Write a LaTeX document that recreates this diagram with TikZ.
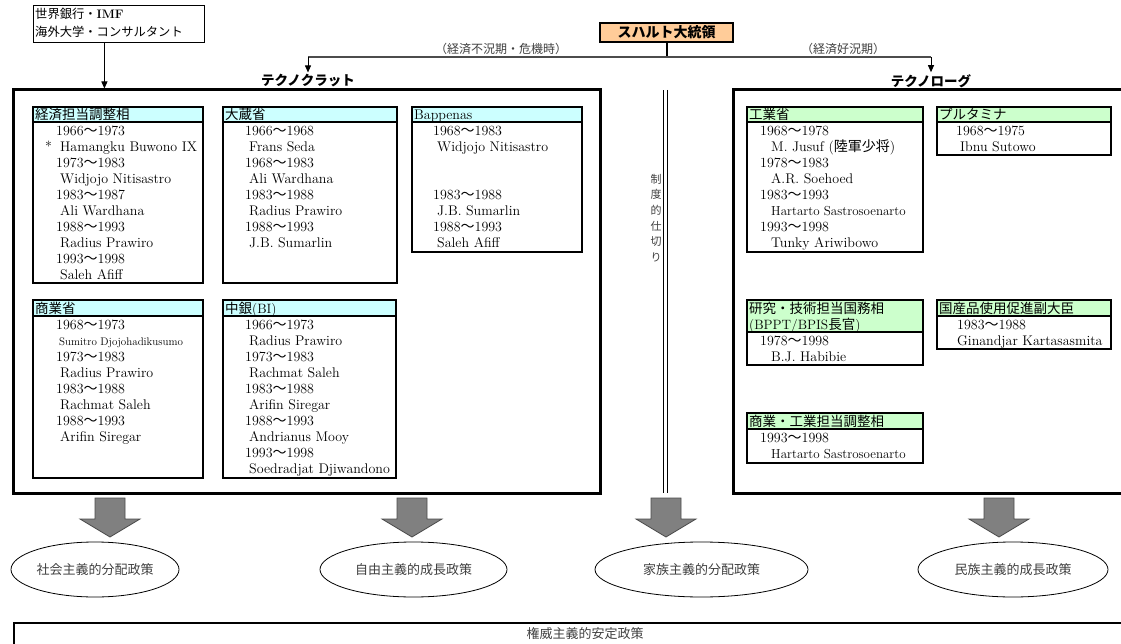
\documentclass[tikz,border=0pt]{standalone}
\usepackage{fontspec}
\newfontfamily\jp{Noto Sans CJK JP}
\usetikzlibrary{arrows.meta,shapes.geometric}
\definecolor{hdcyan}{HTML}{CCFFFF}
\definecolor{hdgreen}{HTML}{CCFFCC}
\definecolor{presor}{HTML}{FFCC99}
\definecolor{labgray}{HTML}{404040}
\definecolor{arrgray}{HTML}{808080}
\newcommand\wv{{\jp 〜}}
\newcommand\jptxt[1]{{\jp #1}}
\newcommand\smtxt[1]{{\fontsize{11}{12}\selectfont #1}}
\newcommand\mdtxt[1]{{\fontsize{13}{14}\selectfont #1}}
\newcommand\bodylines[4]{\foreach \lx/\lidx/\ltxt in {#4} {\node[txt] (#1-\lidx) at (#2+\lx,#3+13.8+16*\lidx) {\ltxt};}}
\newcommand\ministry[7]{%
  \fill[#7] (#2,#4) rectangle (#3,#5);
  \draw[subbox] (#2,#5) -- (#3,#5);
  \draw[subbox] (#2,#4) rectangle (#3,#6);
  \coordinate (#1) at (#2,#4);
}
\newcommand\blockarrow[2]{%
  \draw[blockarr] (#2-15,498) -- (#2+15,498) -- (#2+15,519) -- (#2+30,519) -- (#2,537) -- (#2-30,519) -- (#2-15,519) -- cycle;
  \coordinate (#1) at (#2,537);
}
\begin{document}
\begin{tikzpicture}[x=1pt,y=-1pt,
  txt/.style={anchor=base west, inner sep=0pt, font=\fontsize{14}{16}\selectfont},
  hd/.style={anchor=base west, inner sep=0pt, font=\jp\fontsize{13.5}{15}\selectfont},
  subbox/.style={line width=1.8pt},
  bigbox/.style={line width=3pt},
  blockarr/.style={fill=arrgray, draw=black!70, line width=0.8pt, line join=miter},
  lab/.style={inner sep=0pt, text=labgray, font=\jp\fontsize{12}{14}\selectfont},
  pol/.style={ellipse, draw, line width=0.8pt, inner sep=0pt, text=labgray, font=\jp\fontsize{13}{15}\selectfont, minimum height=55pt},
  cfarr/.style={-{Triangle[length=7pt,width=6pt]}, line width=1pt},
  ttl/.style={inner sep=0pt, font=\jp\bfseries\fontsize{13.5}{15}\selectfont},
]
\useasboundingbox (0,0) rectangle (1121,644);
\clip (0,0) rectangle (1121,644);
\fill[white] (0,0) rectangle (1121,644);

% top-left source box
\node[draw, line width=0.8pt, anchor=north west, minimum width=171pt, minimum height=37pt, inner sep=0pt] (wb) at (33,5) {};
\node[anchor=base west, inner sep=0pt, font=\jp\fontsize{12.3}{14}\selectfont] (wb1) at (35,18.5) {世界銀行・{\normalfont\bfseries IMF}};
\node[anchor=base west, inner sep=0pt, font=\jp\fontsize{12.3}{14}\selectfont] (wb2) at (35,36.5) {海外大学・コンサルタント};

% big boxes
\node[draw, bigbox, minimum width=587pt, minimum height=403pt, inner sep=0pt] (lbox) at (306.5,291.5) {};
\draw[bigbox] (1130,90) -- (733,90) -- (733,493) -- (1130,493);
\coordinate (rbox) at (733,90);
\draw[line width=1pt, double, double distance=2.5pt] (665.5,90) -- (665.5,493);
\node[inner sep=0pt, align=center, text=labgray, font=\jp\fontsize{11}{15.6}\selectfont] (shikiri) at (656,218) {制\\度\\的\\仕\\切\\り};

\draw[cfarr] ([xshift=-14.5pt]wb.south) -- ([xshift=-14.5pt]wb.south |- lbox.north);

% president
\node[draw, line width=2.5pt, fill=presor, minimum width=133pt, minimum height=19pt, inner sep=0pt, font=\jp\bfseries\fontsize{14}{15}\selectfont] (pres) at (666.5,32.5) {スハルト大統領};
\coordinate (junc) at (666.5,57);
\draw[line width=2pt] (pres.south) -- (junc);
\node[ttl] (tc) at (308,81) {テクノクラット};
\node[ttl] (tl) at (931,81) {テクノローグ};
\draw[line width=1.4pt, draw=black!70] (tc.north |- junc) -- (tl.north |- junc);
\draw[cfarr, shorten >=2pt] (tc.north |- junc) -- (tc.north);
\draw[cfarr, shorten >=2pt] (tl.north |- junc) -- (tl.north);
\node[lab] (l1) at (501,49) {（経済不況期・危機時）};
\node[lab] (l2) at (843,49) {（経済好況期）};

% left ministries
\ministry{mA}{33}{203}{107}{122}{283}{hdcyan}
\node[hd] (mA-h) at (35,119.6) {経済担当調整相};
\bodylines{mA}{33}{122}{23/0/1966\wv1973, 12/1/*, 27/1/Hamangku Buwono IX, 23/2/1973\wv1983, 27/3/Widjojo Nitisastro, 23/4/1983\wv1987, 27/5/Ali Wardhana, 23/6/1988\wv1993, 27/7/Radius Prawiro, 23/8/1993\wv1998, 27/9/Saleh Afiff}

\ministry{mB}{223}{397}{107}{122}{283}{hdcyan}
\node[hd] (mB-h) at (225,119.6) {大蔵省};
\bodylines{mB}{223}{122}{22/0/1966\wv1968, 26/1/Frans Seda, 22/2/1968\wv1983, 26/3/Ali Wardhana, 22/4/1983\wv1988, 26/5/Radius Prawiro, 22/6/1988\wv1993, 26/7/J.B. Sumarlin}

\ministry{mC}{412}{582}{107}{122}{252}{hdcyan}
\node[hd, font=\fontsize{14}{16}\selectfont] (mC-h) at (414,119.6) {Bappenas};
\bodylines{mC}{412}{122}{21/0/1968\wv1983, 25/1/Widjojo Nitisastro, 21/4/1983\wv1988, 25/5/J.B. Sumarlin, 21/6/1988\wv1993, 25/7/Saleh Afiff}

\ministry{mD}{33}{203}{300}{316}{478}{hdcyan}
\node[hd] (mD-h) at (35,313) {商業省};
\bodylines{mD}{33}{316}{23/0/1968\wv1973, 26/1/\smtxt{Sumitro Djojohadikusumo}, 23/2/1973\wv1983, 27/3/Radius Prawiro, 23/4/1983\wv1988, 27/5/Rachmat Saleh, 23/6/1988\wv1993, 27/7/Arifin Siregar}

\ministry{mE}{223}{396}{300}{316}{478}{hdcyan}
\node[hd] (mE-h) at (225,313) {中銀{\normalfont(BI)}};
\bodylines{mE}{223}{316}{22/0/1966\wv1973, 26/1/Radius Prawiro, 22/2/1973\wv1983, 26/3/Rachmat Saleh, 22/4/1983\wv1988, 26/5/Arifin Siregar, 22/6/1988\wv1993, 26/7/Andrianus Mooy, 22/8/1993\wv1998, 26/9/Soedradjat Djiwandono}

% right ministries
\ministry{mF}{747}{923}{107}{122}{252}{hdgreen}
\node[hd] (mF-h) at (749,119.6) {工業省};
\bodylines{mF}{747}{122}{13/0/1968\wv1978, 24/1/M. Jusuf (\jptxt{陸軍少将}), 13/2/1978\wv1983, 24/3/A.R. Soehoed, 13/4/1983\wv1993, 24/5/\mdtxt{Hartarto Sastrosoenarto}, 13/6/1993\wv1998, 24/7/Tunky Ariwibowo}

\ministry{mG}{937}{1111}{107}{122}{155}{hdgreen}
\node[hd] (mG-h) at (939,119.6) {プルタミナ};
\bodylines{mG}{937}{122}{19/0/1968\wv1975, 23/1/Ibnu Sutowo}

\ministry{mH}{747}{923}{300}{332}{365}{hdgreen}
\node[hd] (mH-h) at (749,313) {研究・技術担当国務相};
\node[hd] (mH-h2) at (749,329) {{\normalfont(BPPT/BPIS}長官{\normalfont)}};
\bodylines{mH}{747}{332}{13/0/1978\wv1998, 24/1/B.J. Habibie}

\ministry{mI}{937}{1111}{300}{316}{349}{hdgreen}
\node[hd] (mI-h) at (939,313) {国産品使用促進副大臣};
\bodylines{mI}{937}{316}{20/0/1983\wv1988, 20/1/Ginandjar Kartasasmita}

\ministry{mJ}{747}{923}{413}{429}{463}{hdgreen}
\node[hd] (mJ-h) at (749,426) {商業・工業担当調整相};
\bodylines{mJ}{747}{429}{13/0/1993\wv1998, 24/1/\mdtxt{Hartarto Sastrosoenarto}}

% block arrows and policies
\blockarrow{a1}{110}
\blockarrow{a2}{412}
\blockarrow{a3}{666}
\blockarrow{a4}{999}
\node[pol, minimum width=168pt] (e1) at (95,569.5) {社会主義的分配政策};
\node[pol, minimum width=187pt] (e2) at (413.5,569.5) {自由主義的成長政策};
\node[pol, minimum width=213pt] (e3) at (701.5,569.5) {家族主義的分配政策};
\node[pol, minimum width=190pt] (e4) at (1013,569.5) {民族主義的成長政策};

% bottom frame
\draw[line width=2pt] (1130,623) -- (14,623) -- (14,650);
\node[lab, font=\jp\fontsize{13}{15}\selectfont] (auth) at (585,634) {権威主義的安定政策};
\end{tikzpicture}
\end{document}
